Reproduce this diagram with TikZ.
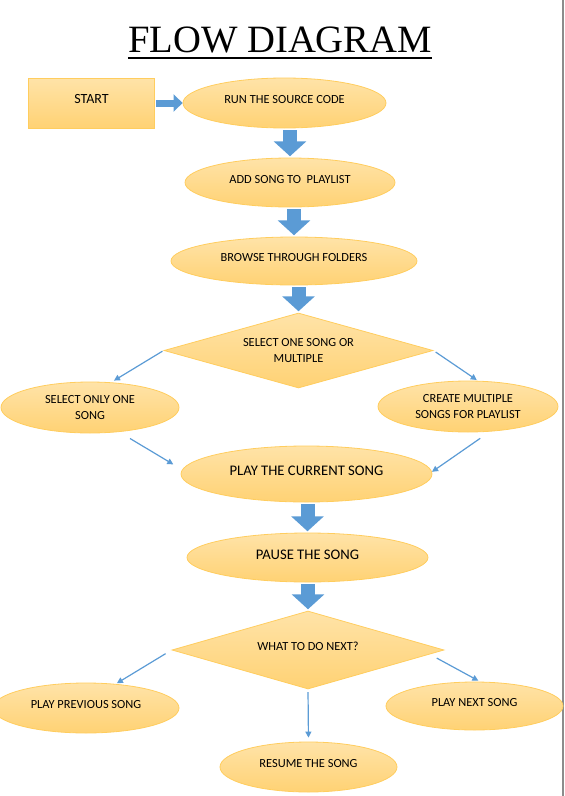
\documentclass[tikz,border=0pt]{standalone}
\usepackage{fontspec}
\setmainfont{Carlito}
\newfontfamily\titlefont{Liberation Serif}
\usetikzlibrary{shapes.geometric,arrows.meta}
\definecolor{boxtop}{HTML}{FFE3A8}
\definecolor{boxbot}{HTML}{FFD274}
\definecolor{boxline}{HTML}{FFCD5E}
\definecolor{flowblue}{HTML}{5B9BD5}
\tikzset{
	box/.style={ellipse, top color=boxtop, bottom color=boxbot, draw=boxline, line width=0.6pt, inner sep=0pt, align=center, font=\fontsize{9.3}{11.5}\selectfont},
	bigbox/.style={box, font=\fontsize{11}{13}\selectfont},
	startbox/.style={box, rectangle, font=\fontsize{10.5}{12}\selectfont},
	choice/.style={box, diamond, aspect=3.6, font=\fontsize{9.3}{12}\selectfont},
	liftsmall/.style={text height=5.9pt, text depth=4.6pt},
	liftbig/.style={text height=7.1pt, text depth=4.5pt},
	titletext/.style={anchor=base, inner sep=0pt, font=\titlefont\fontsize{29}{33}\selectfont},
	bigarrow/.style={draw=flowblue, line width=10.5pt, -{Triangle[width=24pt, length=11.25pt]}, shorten <=1.5pt, shorten >=1pt},
	smallarrow/.style={draw=flowblue, line width=5.25pt, -{Triangle[width=12.75pt, length=6.75pt]}, shorten <=0.75pt},
	link/.style={draw=flowblue, line width=0.9pt, -{Triangle[width=4.5pt, length=4.5pt]}},
	pageedge/.style={draw=black!45, line width=0.8pt}
}

\begin{document}
\begin{tikzpicture}[x=0.75pt, y=-0.75pt]
	%%%%% START %%%%%
	\useasboundingbox (0, 0) rectangle (564, 796);
	\draw[pageedge] (563, 0) -- (563, 796);
	
	\node[titletext] (title) at (280, 52) {FLOW DIAGRAM};
	\draw[line width=1.5pt] ([yshift=-4.5pt]title.base west) -- ([yshift=-4.5pt]title.base east);
	
	\node[startbox, liftsmall, minimum width=94.5pt, minimum height=37.5pt] (start) at (91.5, 103) {START};
	\node[box, liftsmall, minimum width=152.25pt, minimum height=37.5pt] (run) at (284.5, 103) {RUN THE SOURCE CODE};
	\node[box, liftsmall, minimum width=157.5pt, minimum height=36.75pt] (add) at (290, 182.5) {ADD SONG TO\ \ PLAYLIST};
	\node[box, liftsmall, minimum width=184.5pt, minimum height=36pt] (browse) at (294, 261) {BROWSE THROUGH FOLDERS};
	\node[choice, minimum width=201.75pt, minimum height=56.25pt] (sel) at (298.5, 350.5) {SELECT ONE SONG OR\\MULTIPLE};
	\node[box, minimum width=133.5pt, minimum height=38.25pt] (one) at (90, 407.5) {SELECT ONLY ONE\\SONG};
	\node[box, minimum width=135pt, minimum height=38.25pt] (multi) at (468, 406.5) {CREATE MULTIPLE\\SONGS FOR PLAYLIST};
	\node[bigbox, liftbig, minimum width=188.25pt, minimum height=42pt] (play) at (306.5, 474) {PLAY THE CURRENT SONG};
	\node[bigbox, liftbig, minimum width=180.75pt, minimum height=36.75pt] (pause) at (307.5, 557.5) {PAUSE THE SONG};
	\node[choice, liftsmall, minimum width=204pt, minimum height=58.5pt] (whatnext) at (308, 650) {WHAT TO DO NEXT?};
	\node[box, liftsmall, minimum width=139.5pt, minimum height=37.5pt] (prev) at (86, 708) {PLAY PREVIOUS SONG};
	\node[box, liftsmall, minimum width=132.75pt, minimum height=36pt] (nextsong) at (474.5, 706) {PLAY NEXT SONG};
	\node[box, liftsmall, minimum width=132.75pt, minimum height=37.5pt] (resume) at (308.5, 767) {RESUME THE SONG};
	
	% block arrows
	\draw[smallarrow] (start.east) -- (run.west);
	\draw[bigarrow] (add.north |- run.south) -- (add.north);
	\draw[bigarrow] (browse.north |- add.south) -- (browse.north);
	\draw[bigarrow] (sel.north |- browse.south) -- (sel.north);
	\draw[bigarrow] (pause.north |- play.south) -- (pause.north);
	\draw[bigarrow] (whatnext.north |- pause.south) -- (whatnext.north);
	
	% thin arrows
	\draw[link, shorten <=1pt, shorten >=2.5pt] (sel.west) -- (one.50);
	\draw[link, shorten <=2pt, shorten >=1pt] (sel.east) -- (multi.69);
	\draw[link, shorten <=9.5pt, shorten >=7.7pt] (one.-40) -- (play.178);
	\draw[link, shorten <=8.8pt] (multi.-49) -- (play.1);
	\draw[link, shorten <=5.3pt, shorten >=1pt] (whatnext.west) -- (prev.39);
	\draw[link, shorten <=6pt, shorten >=1.5pt] (whatnext.-2) -- (nextsong.77);
	\draw[link, shorten <=2pt, shorten >=3pt] (whatnext.south) -- (resume.north);
	%%%%% END %%%%%
\end{tikzpicture}
\end{document}
